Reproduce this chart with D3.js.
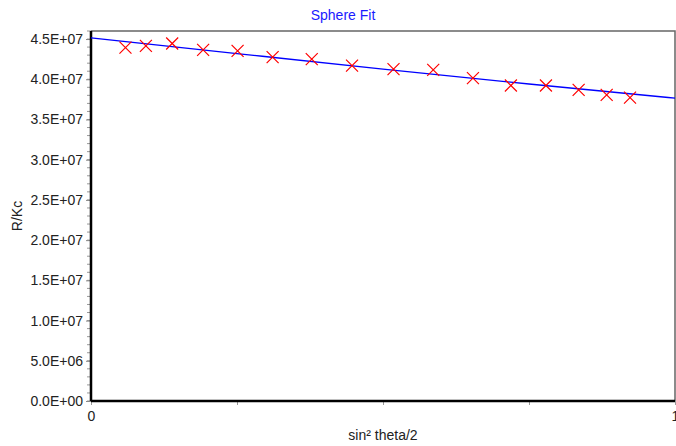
<!DOCTYPE html>
<html>
<head>
<meta charset="utf-8">
<script src="https://cdn.jsdelivr.net/npm/d3@7"></script>
<style>
  body { margin: 0; background: #fff; }
  text { font-family: "Liberation Sans", Arial, sans-serif; }
</style>
</head>
<body>
<div id="chart"></div>
<script>
// measured points (sin^2 theta/2 vs R/Kc)
const sinSq = [0.059, 0.094, 0.139, 0.192, 0.251, 0.311, 0.378, 0.447, 0.518, 0.586, 0.654, 0.719, 0.779, 0.835, 0.883, 0.923];
const rkc = [43.94e6, 44.15e6, 44.44e6, 43.66e6, 43.53e6, 42.75e6, 42.50e6, 41.70e6, 41.26e6, 41.17e6, 40.14e6, 39.22e6, 39.22e6, 38.68e6, 38.06e6, 37.72e6];

// sphere fit curve
const fitX = [0, 0.25, 0.5, 0.75, 1];
const fitY = [45.15e6, 43.2e6, 41.27e6, 39.41e6, 37.65e6];

const yTicks = d3.range(0, 4.5e7 + 1, 5e6);
const yMinor = d3.range(0, 4.6e7 + 1, 1e6);
const xTicks = [0, 0.25, 0.5, 0.75, 1];
const xLabels = {0: "0", 1: "1"};

const width = 676, height = 446;
const margin = {top: 31, right: 1, bottom: 45, left: 91};

const svg = d3.select("#chart").append("svg")
  .attr("width", width)
  .attr("height", height);

const x = d3.scaleLinear().domain([0, 1]).range([margin.left, width - margin.right]);
const y = d3.scaleLinear().domain([0, 4.6e7]).range([height - margin.bottom, margin.top]);

// frame top/right
svg.append("path")
  .attr("d", `M${x(0)},${y(4.6e7)}H${x(1)}V${y(0)}`)
  .attr("fill", "none")
  .attr("stroke", "#666")
  .attr("stroke-width", 1.5);

// y minor ticks
svg.append("g").selectAll("line")
  .data(yMinor)
  .enter().append("line")
  .attr("x1", x(0) - 4).attr("x2", x(0))
  .attr("y1", d => y(d)).attr("y2", d => y(d))
  .attr("stroke", "#999");

// y axis
const yAxis = svg.append("g")
  .attr("transform", `translate(${x(0)},0)`)
  .call(d3.axisLeft(y).tickValues(yTicks).tickSize(5).tickPadding(3)
    .tickFormat(d => d3.format(".1e")(d).replace("e+", "E+0").replace(/E\+0(\d\d)/, "E+$1")));
yAxis.select(".domain").remove();
yAxis.selectAll(".tick line").attr("stroke", "#888");
yAxis.selectAll(".tick text").attr("font-size", 14).attr("fill", "#222")
  .attr("font-family", "Liberation Sans, Arial, sans-serif");

// x axis
const xAxis = svg.append("g")
  .attr("transform", `translate(0,${y(0)})`)
  .call(d3.axisBottom(x).tickValues(xTicks).tickSize(4).tickPadding(6)
    .tickFormat(d => xLabels[d] || ""));
xAxis.select(".domain").remove();
xAxis.selectAll(".tick line").attr("stroke", "#999");
xAxis.selectAll(".tick text").attr("font-size", 14).attr("fill", "#222")
  .attr("font-family", "Liberation Sans, Arial, sans-serif");

// main axis lines
svg.append("line")
  .attr("x1", x(0)).attr("x2", x(0)).attr("y1", y(4.6e7)).attr("y2", y(0))
  .attr("stroke", "#000").attr("stroke-width", 2.5);
svg.append("line")
  .attr("x1", x(0)).attr("x2", x(1)).attr("y1", y(0)).attr("y2", y(0))
  .attr("stroke", "#000").attr("stroke-width", 2.5);

// fit line
const line = d3.line()
  .x(d => x(d[0]))
  .y(d => y(d[1]))
  .curve(d3.curveMonotoneX);
svg.append("path")
  .datum(d3.zip(fitX, fitY))
  .attr("d", line)
  .attr("fill", "none")
  .attr("stroke", "#0000ff")
  .attr("stroke-width", 1.3);

// X markers
const s = 6;
svg.append("g").selectAll("path")
  .data(d3.zip(sinSq, rkc))
  .enter().append("path")
  .attr("d", d => {
    const px = x(d[0]), py = y(d[1]);
    return `M${px - s},${py - s}L${px + s},${py + s}M${px - s},${py + s}L${px + s},${py - s}`;
  })
  .attr("stroke", "#ff0000")
  .attr("stroke-width", 1.2)
  .attr("fill", "none");

// titles
svg.append("text")
  .attr("x", 343).attr("y", 20)
  .attr("text-anchor", "middle")
  .attr("font-size", 14)
  .attr("fill", "#1a1aff")
  .text("Sphere Fit");

svg.append("text")
  .attr("x", 383).attr("y", 440)
  .attr("text-anchor", "middle")
  .attr("font-size", 14)
  .attr("fill", "#222")
  .text("sin² theta/2");

svg.append("text")
  .attr("transform", "translate(22,216) rotate(-90)")
  .attr("text-anchor", "middle")
  .attr("font-size", 14)
  .attr("fill", "#222")
  .text("R/Kc");
</script>
</body>
</html>
